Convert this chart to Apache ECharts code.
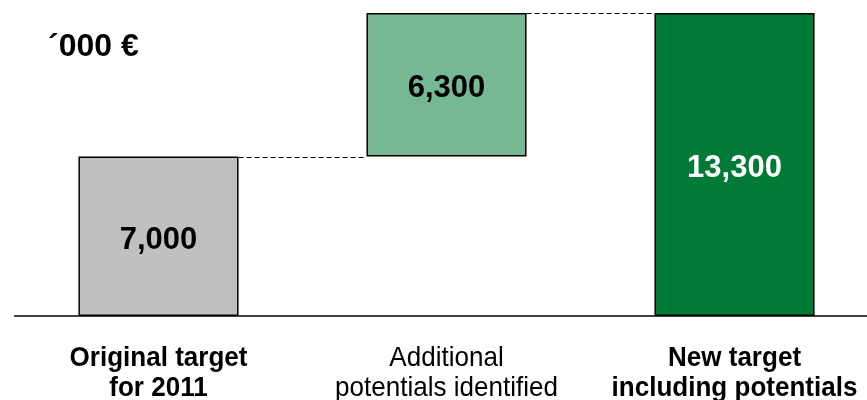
<!DOCTYPE html>
<html>
<head>
<meta charset="utf-8">
<script src="https://cdn.jsdelivr.net/npm/echarts@6/dist/echarts.min.js"></script>
<style>html,body{margin:0;padding:0;background:#fff;}#c{width:867px;height:400px;}</style>
</head>
<body>
<div id="c"></div>
<script>
const categories = ['Original target\nfor 2011', 'Additional\npotentials identified', 'New target\nincluding potentials'];
const boldCategory = [true, false, true];
const baseValues = [0, 7000, 0];
const barValues = [7000, 6300, 13300];
const valueLabels = ['7,000', '6,300', '13,300'];
const barColors = ['#C0C0C0', '#76B893', '#007A36'];
const labelColors = ['#000000', '#000000', '#FFFFFF'];
const connectorLevels = [7000, 13300];
const unitTitle = '´000 €';

const chart = echarts.init(document.getElementById('c'));
const BAR_FRAC = 0.556;
const FONT = 'Liberation Sans, Arial, sans-serif';

chart.setOption({
  animation: false,
  title: {
    text: unitTitle,
    left: 43, top: 26,
    textStyle: { fontFamily: FONT, fontWeight: 'bold', fontSize: 32, color: '#000' }
  },
  grid: { left: 14.5, right: -11.5, top: 13, bottom: 84, outerBoundsMode: 'none', containLabel: false },
  xAxis: {
    type: 'category',
    data: categories,
    axisLine: { lineStyle: { color: '#000', width: 1.5 } },
    axisTick: { show: false },
    axisLabel: { show: false }
  },
  yAxis: {
    type: 'value', min: 0, max: 13300, show: false,
    splitLine: { show: false }
  },
  series: [
    {
      type: 'bar', stack: 'w', barWidth: (BAR_FRAC * 100) + '%',
      itemStyle: { color: 'transparent' },
      data: baseValues, silent: true
    },
    {
      type: 'bar', stack: 'w', barWidth: (BAR_FRAC * 100) + '%',
      data: barValues.map((v, i) => ({
        value: v,
        itemStyle: { color: barColors[i], borderColor: '#000', borderWidth: 1.5 },
        label: {
          show: true, position: 'inside', offset: [0, 4],
          formatter: valueLabels[i],
          fontFamily: FONT, fontWeight: 'bold', fontSize: 31,
          color: labelColors[i]
        }
      }))
    },
    {
      type: 'custom',
      z: 1,
      data: connectorLevels.map((v, i) => [i, v]),
      renderItem: function (params, api) {
        const i = api.value(0), y = api.value(1);
        const p0 = api.coord([i, y]);
        const p1 = api.coord([i + 1, y]);
        const bw = api.size([1, 0])[0] * BAR_FRAC;
        return {
          type: 'line',
          shape: { x1: p0[0] + bw / 2, y1: Math.round(p0[1]) + 0.5, x2: p1[0] - bw / 2, y2: Math.round(p0[1]) + 0.5 },
          style: { stroke: '#000', lineWidth: 1, lineDash: [5, 3] }
        };
      }
    },
    {
      type: 'custom',
      clip: false,
      silent: true,
      data: categories.map((c, i) => [i, 0]),
      renderItem: function (params, api) {
        const i = api.value(0);
        const p = api.coord([i, 0]);
        return {
          type: 'text',
          x: p[0], y: p[1] + 57,
          scaleX: 0.93,
          style: {
            text: categories[i],
            fontFamily: FONT,
            fontWeight: boldCategory[i] ? 'bold' : 'normal',
            fontSize: 28, lineHeight: 30,
            fill: '#000',
            align: 'center', verticalAlign: 'middle'
          }
        };
      }
    }
  ]
});
</script>
</body>
</html>
